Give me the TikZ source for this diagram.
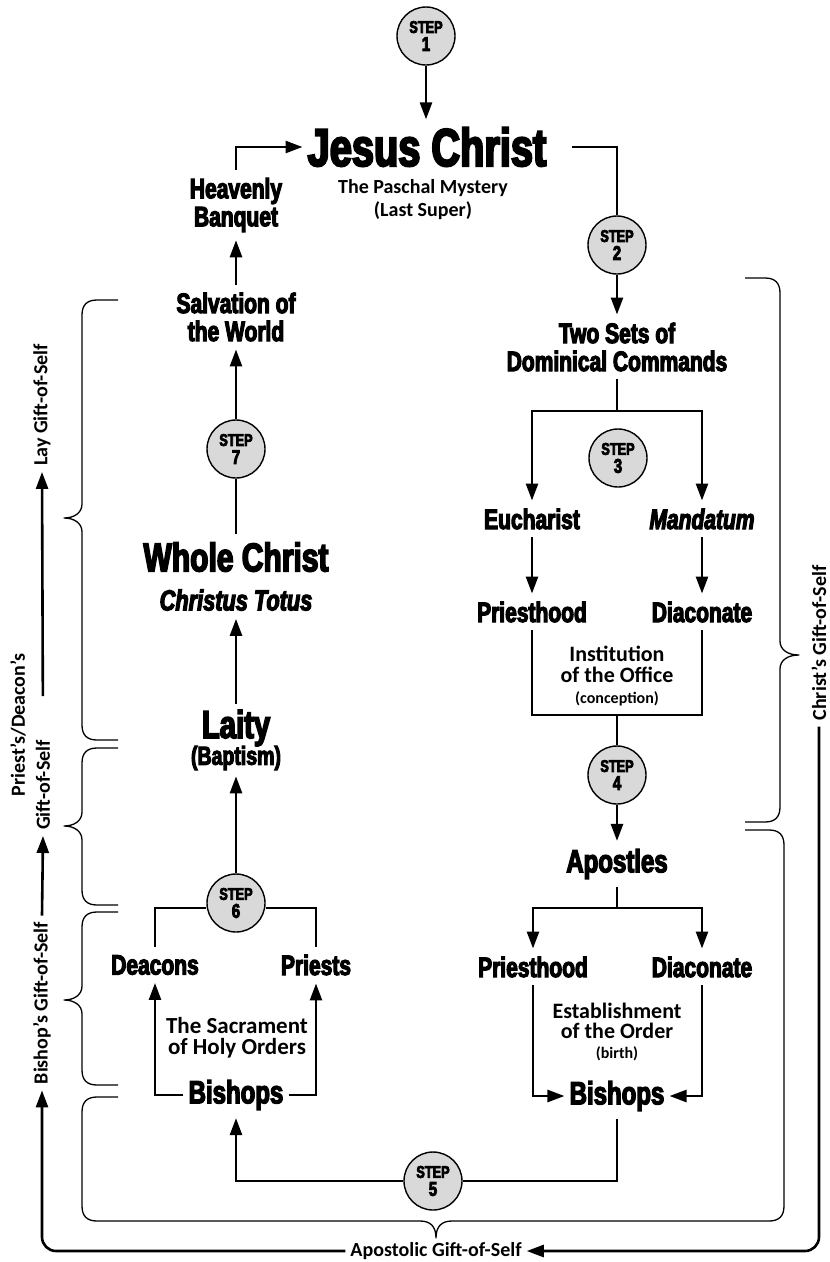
\documentclass[tikz,border=0pt]{standalone}
\usepackage{fontspec}
\setmainfont{Carlito}
\newfontfamily\impactfont[FakeStretch=0.75,FakeBold=4]{Liberation Sans}
\newfontfamily\calfont{Carlito}
\usetikzlibrary{arrows.meta,calc}
\newcommand\LeftBrc[3]{\draw[brc] (118,#1) -- (97,#1) .. controls (87,#1) and (82,#1+5) .. (82,#1+15) -- (82,#2-14) .. controls (82,#2-5) and (74,#2) .. (64,#2) .. controls (74,#2) and (82,#2+5) .. (82,#2+14) -- (82,#3-15) .. controls (82,#3-5) and (87,#3) .. (97,#3) -- (118,#3);}
\begin{document}
\begin{tikzpicture}[x=1pt,y=-1pt,
  stepc/.style={circle,draw=black,line width=1.4pt,fill=gray!30,minimum size=58pt,inner sep=0pt,align=center,font=\impactfont\bfseries\fontsize{17}{18}\selectfont},
  imp/.style={align=center,inner xsep=5pt,inner ysep=8pt,font=\impactfont\bfseries\fontsize{#1}{28}\selectfont},
  cal/.style 2 args={align=center,inner sep=5pt,font=\calfont\bfseries\fontsize{#1}{#2}\selectfont},
  side/.style={rotate=90,inner sep=6pt,font=\calfont\bfseries\fontsize{20}{22}\selectfont},
  arr/.style={line width=2.6pt,-{Triangle[length=17pt,width=12pt]}},
  ln/.style={line width=2.6pt},
  brc/.style={line width=1.3pt,line join=round}]
\useasboundingbox (0,0) rectangle (830,1262);

% ---- nodes ----
\node[stepc] (s1) at (426,36) {STEP\\{\fontsize{20}{20}\selectfont 1}};
\node[imp=53] (JC) at (427,147) {Jesus Christ};
\node[cal={20}{23}] (PM) at (423,200) {The Paschal Mystery\\(Last Super)};
\node[imp=28] (HB) at (236,205) {Heavenly\\Banquet};
\node[stepc] (s2) at (617,245) {STEP\\{\fontsize{20}{20}\selectfont 2}};
\node[imp=28] (TS) at (617,347) {Two Sets of\\Dominical Commands};
\coordinate (sp1) at (617,411);
\node[stepc] (s3) at (618,458) {STEP\\{\fontsize{20}{20}\selectfont 3}};
\node[imp=28] (Eu) at (532,519) {Eucharist};
\node[imp=28] (Ma) at (702,519) {\itshape Mandatum};
\node[imp=28] (P1) at (532,612) {Priesthood};
\node[imp=28] (D1) at (702,612) {Diaconate};
\node[cal={22}{21}] (In) at (617,676) {Institution\\of the Office\\{\fontsize{16}{16}\selectfont (conception)}};
\coordinate (jn1) at (617,715);
\node[stepc] (s4) at (617,775) {STEP\\{\fontsize{20}{20}\selectfont 4}};
\node[imp=32] (Ap) at (617,864) {Apostles};
\coordinate (sp2) at (617,908);
\node[imp=28] (P2) at (533,967) {Priesthood};
\node[imp=28] (D2) at (702,967) {Diaconate};
\node[cal={22}{20}] (Es) at (617,1032) {Establishment\\of the Order\\{\fontsize{16}{16}\selectfont (birth)}};
\node[imp=32] (BR) at (617,1096) {Bishops};
\node[stepc] (s5) at (433,1181) {STEP\\{\fontsize{20}{20}\selectfont 5}};
\node[imp=32] (BL) at (236,1095) {Bishops};
\node[imp=28] (De) at (155,965) {Deacons};
\node[imp=28] (Pr) at (316,965) {Priests};
\node[cal={23}{21}] (Sa) at (237,1038) {The Sacrament\\of Holy Orders};
\node[stepc] (s6) at (236,903) {STEP\\{\fontsize{20}{20}\selectfont 6}};
\node[imp=26,inner ysep=6pt] (Ba) at (236,758) {(Baptism)};
\node[imp=39,inner ysep=6pt] (La) at (236,728) {Laity};
\node[imp=29] (CT) at (236,600) {\itshape Christus Totus};
\node[imp=40] (WC) at (236,557) {Whole Christ};
\node[stepc] (s7) at (236,449) {STEP\\{\fontsize{20}{20}\selectfont 7}};
\node[imp=28] (SW) at (236,317) {Salvation of\\the World};

\node[side] (LG) at (42,405) {Lay Gift-of-Self};
\node[side] (PD) at (18,725) {Priest’s/Deacon’s};
\node[side] (PG) at (43,785) {Gift-of-Self};
\node[side] (BG) at (42,1003) {Bishop’s Gift-of-Self};
\node[side] (CG) at (819,643) {Christ’s Gift-of-Self};
\node[cal={20}{20}] (AG) at (436,1251) {Apostolic Gift-of-Self};

% ---- connectors ----
\draw[arr] (s1) -- (s1 |- JC.north);
\draw[arr] (HB.north) |- (JC.west);
\draw[ln,shorten <=20pt] (JC.east) -| (s2.north);
\draw[arr] (s2) -- (TS.north);
\draw[ln] (TS.south) -- (sp1);
\draw[arr] (sp1) -| (Eu.north);
\draw[arr] (sp1) -| (Ma.north);
\draw[arr] (Eu) -- (P1);
\draw[arr] (Ma) -- (D1);
\draw[ln] (P1.south) |- (jn1) -| (D1.south);
\draw[ln] (jn1) -- (s4);
\draw[arr] (s4) -- (Ap);
\draw[ln] (Ap.south) -- (sp2);
\draw[arr] (sp2) -| (P2.north);
\draw[arr] (sp2) -| (D2.north);
\draw[arr] (P2.south) |- (BR.west);
\draw[arr] (D2.south) |- (BR.east);
\draw[ln] (BR.south) |- (s5.east);
\draw[arr] (s5.west) -| (BL.south);
\draw[arr] (BL.west) -| (De.south);
\draw[arr] (BL.east) -| (Pr.south);
\draw[ln] (De.north) |- ([yshift=-5pt]s6.west);
\draw[ln] (Pr.north) |- ([yshift=-5pt]s6.east);
\draw[arr] (s6) -- (Ba);
\draw[arr] (La) -- (CT);
\draw[ln] (WC) -- (s7);
\draw[arr] (s7) -- (SW);
\draw[arr] (SW) -- (HB);

\draw[arr,shorten <=38pt] (PG.east) -- (LG.west);
\draw[arr] (BG.east) -- (PG.west);
\draw[arr,rounded corners=14pt] (CG.west) |- (AG.east);
\draw[arr,rounded corners=14pt] (AG.west) -| (BG.west);

% ---- braces ----
\LeftBrc{300}{518}{740}
\LeftBrc{748}{826}{905}
\LeftBrc{912}{1000}{1085}
\draw[brc] (745,278) -- (765,278) .. controls (775,278) and (780,283) .. (780,293) -- (780,641) .. controls (780,650) and (788,655) .. (799,655) .. controls (788,655) and (780,660) .. (780,669) -- (780,807) .. controls (780,817) and (775,822) .. (765,822) -- (745,822);
\draw[brc] (118,1097) -- (97,1097) .. controls (87,1097) and (82,1102) .. (82,1112) -- (82,1206) .. controls (82,1216) and (87,1221) .. (97,1221) -- (420,1221) .. controls (430,1221) and (436,1226) .. (436,1238) .. controls (436,1226) and (442,1221) .. (452,1221) -- (769,1221) .. controls (779,1221) and (784,1216) .. (784,1206) -- (784,845) .. controls (784,835) and (779,830) .. (769,830) -- (745,830);
\end{tikzpicture}
\end{document}
